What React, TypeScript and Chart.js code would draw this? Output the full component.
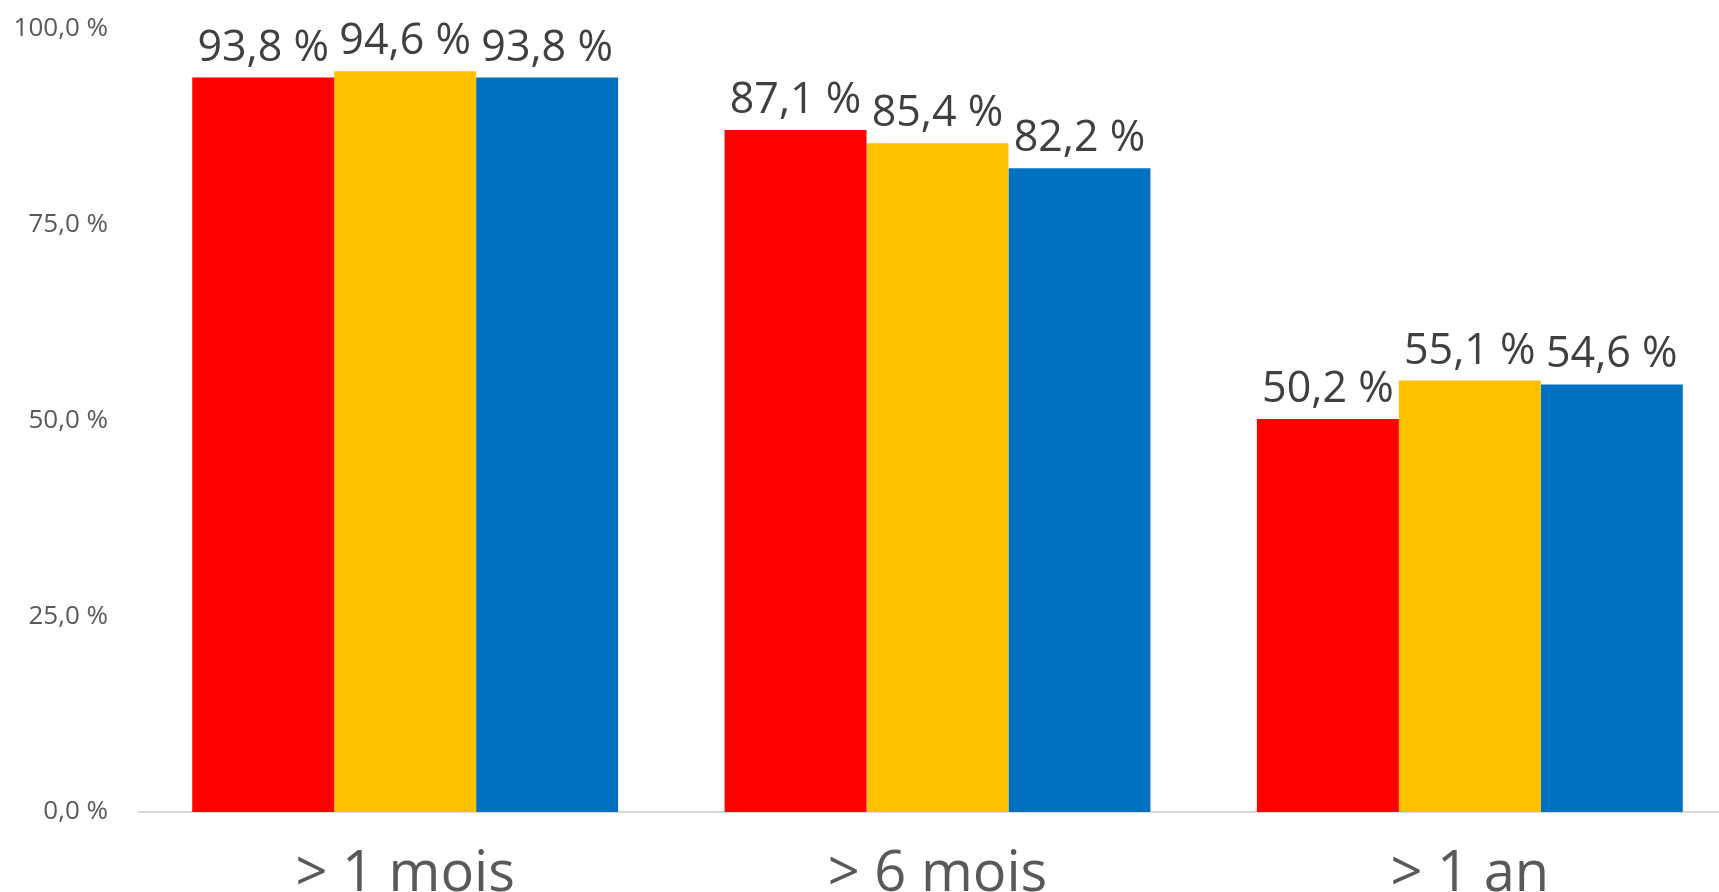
import React, { useEffect, useRef } from "react";
import { Chart, registerables } from "chart.js";

Chart.register(...registerables);

// Durées de suivi (catégories) et valeurs par série, en %
const categories = ["> 1 mois", "> 6 mois", "> 1 an"];
const seriesNames = ["Série 1", "Série 2", "Série 3"];
const serieRouge = [93.8, 87.1, 50.2];
const serieJaune = [94.6, 85.4, 55.1];
const serieBleue = [93.8, 82.2, 54.6];
const yTicks = [0, 25, 50, 75, 100];

const colors = ["#FF0000", "#FFC000", "#0070C0"];

const fmt = (v: number) => v.toFixed(1).replace(".", ",") + " %";

const valueLabels = {
  id: "valueLabels",
  afterDatasetsDraw(chart: any) {
    const ctx = chart.ctx;
    ctx.save();
    ctx.font = "43px 'Open Sans'";
    ctx.fillStyle = "#404040";
    ctx.textAlign = "center";
    ctx.textBaseline = "alphabetic";
    chart.data.datasets.forEach((ds: any, i: number) => {
      const meta = chart.getDatasetMeta(i);
      meta.data.forEach((el: any, j: number) => {
        ctx.fillText(fmt(ds.data[j]), el.x, el.y - 17);
      });
    });
    ctx.restore();
  },
};

export default function App() {
  const ref = useRef<HTMLCanvasElement | null>(null);

  useEffect(() => {
    document.body.style.margin = "0";
    document.body.style.overflow = "hidden";
    const canvas = ref.current;
    if (!canvas) return;
    const chart = new Chart(canvas, {
      type: "bar",
      data: {
        labels: categories,
        datasets: [serieRouge, serieJaune, serieBleue].map((d, i) => ({
          label: seriesNames[i],
          data: d,
          backgroundColor: colors[i],
          borderWidth: 0,
          categoryPercentage: 0.8,
          barPercentage: 1.0,
        })),
      },
      options: {
        responsive: false,
        animation: false,
        layout: { padding: { top: 29, right: 4, left: 0, bottom: 0 } },
        plugins: {
          legend: { display: false },
          tooltip: { enabled: false },
        },
        scales: {
          x: {
            grid: { display: false, drawTicks: false },
            border: { display: true, color: "#D9D9D9", width: 2 },
            ticks: {
              color: "#595959",
              font: { family: "'Open Sans'", size: 56 },
              padding: 29,
            },
            afterFit(scale: any) {
              scale.height = 80;
              scale.paddingLeft = 0;
              scale.paddingRight = 0;
            },
          },
          y: {
            min: 0,
            max: 100,
            afterBuildTicks(scale: any) {
              scale.ticks = yTicks.map((v) => ({ value: v }));
            },
            grid: { display: false, drawTicks: false },
            border: { display: false },
            ticks: {
              color: "#595959",
              font: { family: "'Open Sans'", size: 26 },
              padding: 31,
              callback: (v: any) => fmt(Number(v)),
            },
            afterFit(scale: any) {
              scale.width = 139;
              scale.paddingTop = 0;
              scale.paddingBottom = 0;
            },
          },
        },
      },
      plugins: [valueLabels],
    });
    return () => chart.destroy();
  }, []);

  return (
    <div style={{ width: 1719, height: 892, overflow: "hidden", position: "relative", background: "#fff" }}>
      <canvas ref={ref} width={1740} height={892} style={{ width: 1740, height: 892, display: "block" }} />
    </div>
  );
}
